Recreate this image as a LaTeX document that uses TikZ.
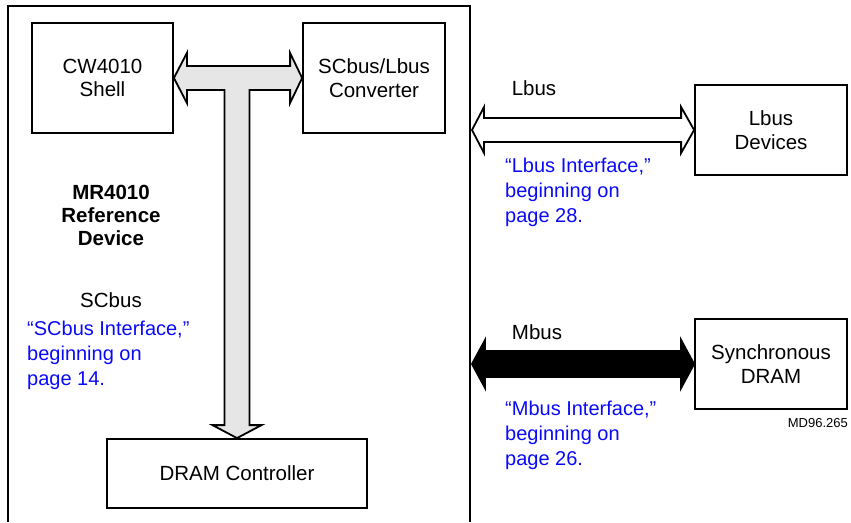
\documentclass[tikz,border=0pt]{standalone}
\usepackage{fontspec}
\setmainfont{Liberation Sans}
\usetikzlibrary{calc}
\definecolor{linkblue}{RGB}{10,10,250}
\definecolor{busgray}{RGB}{230,230,230}
\begin{document}
\begin{tikzpicture}[x=1pt,y=-1pt,
  box/.style={draw=black, line width=1.8pt, fill=white, align=center, inner sep=0,
              font=\fontsize{20.5}{23.5}\selectfont},
  lbl/.style={align=center, inner sep=0, font=\fontsize{20.5}{23.5}\selectfont},
  link/.style={align=left, inner sep=0, text=linkblue, font=\fontsize{20}{25}\selectfont},
  frame/.style={draw=black, line width=1.8pt},
  tbus/.style={draw=black, line width=1.8pt, fill=busgray, line join=miter},
  lbusarrow/.style={draw=black, line width=1.8pt, fill=white, line join=miter},
  mbusarrow/.style={draw=black, line width=1.8pt, fill=black, line join=miter}]
\useasboundingbox (0,0) rectangle (851,522);
\fill[white] (0,0) rectangle (851,522);
% outer device frame (open at the bottom)
\draw[frame] (8,522) -- (8,6) -- (470,6) -- (470,522);
% boxes
\node[box, minimum width=141, minimum height=110] (shell) at (102.5,78) {CW4010\\Shell};
\node[box, minimum width=142, minimum height=110] (conv) at (374,78) {SCbus/Lbus\\Converter};
\node[box, minimum width=260, minimum height=69] (dram) at (237,473.5) {DRAM Controller};
\node[box, minimum width=152, minimum height=90] (lbusdev) at (771,130) {Lbus\\Devices};
\node[box, minimum width=152, minimum height=90] (sdram) at (771,364) {Synchronous\\DRAM};
% bus end points on the device frame
\coordinate (ltip) at (472,130);
\coordinate (mtip) at (472,364);
% T-shaped SCbus
\draw[tbus] (shell.east) -- ++(13,-25) -- ++(0,13)
  -- ($(conv.west)+(-12,-12)$) -- ++(0,-13) -- (conv.west) -- ++(-12,25) -- ++(0,-13)
  -- ($(dram.north |- conv.west)+(12.5,12)$) -- ($(dram.north)+(12.5,-13)$)
  -- ($(dram.north)+(24.5,-13)$) -- (dram.north) -- ($(dram.north)+(-24.5,-13)$)
  -- ($(dram.north)+(-12.5,-13)$) -- ($(dram.north |- conv.west)+(-12.5,12)$)
  -- ($(shell.east)+(13,12)$) -- ++(0,13) -- cycle;
% Lbus
\draw[lbusarrow] (ltip) -- ++(12,-23) -- ++(0,11)
  -- ($(lbusdev.west)+(-13,-12)$) -- ++(0,-11) -- (lbusdev.west) -- ++(-13,23) -- ++(0,-11)
  -- ($(ltip)+(12,12)$) -- ++(0,11) -- cycle;
% Mbus
\draw[mbusarrow] (mtip) -- ++(13,-24) -- ++(0,11)
  -- ($(sdram.west)+(-13,-13)$) -- ++(0,-11) -- (sdram.west) -- ++(-13,24) -- ++(0,-11)
  -- ($(mtip)+(13,13)$) -- ++(0,11) -- cycle;
% labels
\node[lbl, font=\fontsize{20.5}{23}\selectfont\bfseries] (mr) at (111,215) {MR4010\\Reference\\Device};
\node[lbl] (scbus) at (111,300) {SCbus};
\node[link, anchor=west] (sclink) at (27,355) {“SCbus Interface,”\\beginning on\\page 14.};
\node[lbl] (lbuslbl) at (534,88) {Lbus};
\node[link, anchor=west] (lbuslink) at (505,192) {“Lbus Interface,”\\beginning on\\page 28.};
\node[lbl] (mbuslbl) at (537,332) {Mbus};
\node[link, anchor=west] (mbuslink) at (505,435) {“Mbus Interface,”\\beginning on\\page 26.};
\node[inner sep=0, anchor=east, font=\fontsize{13}{15}\selectfont] (md) at (848,423) {MD96.265};
\end{tikzpicture}
\end{document}
